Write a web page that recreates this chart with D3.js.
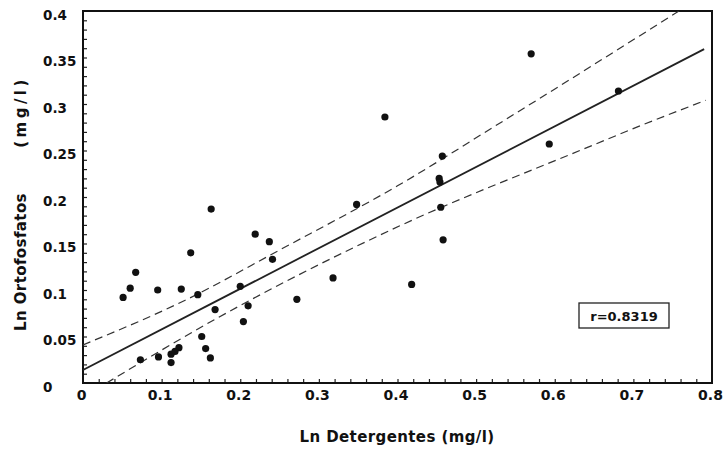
<!DOCTYPE html>
<html>
<head>
<meta charset="utf-8">
<script src="https://cdn.jsdelivr.net/npm/d3@7"></script>
<style>
  html, body { margin: 0; padding: 0; background: #ffffff; }
  svg text { font-family: "DejaVu Sans", sans-serif; fill: #111; }
</style>
</head>
<body>
<svg id="chart" width="725" height="451"></svg>
<script>
// Ln detergentes (x) vs ln ortofosfatos (y), mg/l
const detergentes = [0.570, 0.681, 0.593, 0.384, 0.457, 0.453, 0.454, 0.455, 0.458, 0.348,
  0.318, 0.272, 0.418, 0.163, 0.219, 0.237, 0.241, 0.137, 0.067, 0.060,
  0.051, 0.095, 0.125, 0.146, 0.200, 0.168, 0.210, 0.204, 0.151, 0.156,
  0.162, 0.073, 0.096, 0.112, 0.122, 0.117, 0.112];
const ortofosfatos = [0.354, 0.314, 0.257, 0.286, 0.244, 0.220, 0.216, 0.189, 0.154, 0.192,
  0.113, 0.090, 0.106, 0.187, 0.160, 0.152, 0.133, 0.140, 0.119, 0.102,
  0.092, 0.100, 0.101, 0.095, 0.104, 0.079, 0.083, 0.066, 0.050, 0.037,
  0.027, 0.025, 0.028, 0.022, 0.038, 0.034, 0.031];

// fitted line and its confidence limits, [x, y]
const fitLine = [[0, 0.014], [0.79, 0.359]];
const upperLimit = [[0, 0.041], [0.13, 0.089], [0.25, 0.143], [0.40, 0.212], [0.535, 0.282], [0.76, 0.401]];
const lowerLimit = [[0.03, 0.0], [0.167, 0.068], [0.403, 0.169], [0.632, 0.250], [0.713, 0.278], [0.792, 0.304]];

const xTickLabels = [0, 0.1, 0.2, 0.3, 0.4, 0.5, 0.6, 0.7, 0.8];
const yTickLabels = [0, 0.05, 0.1, 0.15, 0.2, 0.25, 0.3, 0.35, 0.4];
const xMinorTicks = d3.range(1, 40).map(i => +(i * 0.02).toFixed(2));
const yMinorTicks = d3.range(1, 40).map(i => +(i * 0.01).toFixed(2));
const corrLabel = "r=0.8319";

const svg = d3.select("#chart");
const L = 83, R = 712, T = 11, B = 383;

const x = d3.scaleLinear().domain([0, 0.8]).range([L, R]);
const y = d3.scaleLinear().domain([0, 0.4]).range([B, T]);

svg.append("defs").append("clipPath").attr("id", "plotClip")
  .append("rect").attr("x", L).attr("y", T).attr("width", R - L).attr("height", B - T);

// minor ticks, pointing inward
svg.append("g").attr("transform", `translate(0,${B})`)
  .call(d3.axisBottom(x).tickValues(xMinorTicks).tickSize(-4).tickSizeOuter(0).tickFormat(""))
  .call(g => g.select(".domain").remove())
  .call(g => g.selectAll("line").attr("stroke", "#222").attr("stroke-width", 1.2));
svg.append("g").attr("transform", `translate(${L},0)`)
  .call(d3.axisLeft(y).tickValues(yMinorTicks).tickSize(-4).tickSizeOuter(0).tickFormat(""))
  .call(g => g.select(".domain").remove())
  .call(g => g.selectAll("line").attr("stroke", "#222").attr("stroke-width", 1.2));

// tick labels
svg.append("g").attr("transform", `translate(0,${B})`)
  .call(d3.axisBottom(x).tickValues(xTickLabels).tickSize(0).tickPadding(7).tickFormat(d => d === 0 ? "0" : String(d)))
  .call(g => g.select(".domain").remove())
  .call(g => g.selectAll("text").attr("font-size", 14).attr("font-weight", "bold")
    .attr("font-family", "DejaVu Sans").attr("fill", "#111").attr("dx", -2));
svg.append("g").attr("transform", `translate(${L},0)`)
  .call(d3.axisLeft(y).tickValues(yTickLabels).tickSize(0).tickFormat(d => d === 0 ? "0" : String(d)))
  .call(g => g.select(".domain").remove())
  .call(g => g.selectAll("text").attr("font-size", 13.5).attr("font-weight", "bold")
    .attr("font-family", "DejaVu Sans").attr("fill", "#111")
    .attr("text-anchor", "start").attr("x", 43 - L).attr("dy", "0.6em"));

// frame
svg.append("rect").attr("x", L).attr("y", T).attr("width", R - L).attr("height", B - T)
  .attr("fill", "none").attr("stroke", "#111").attr("stroke-width", 2);

const line = d3.line().x(d => x(d[0])).y(d => y(d[1]));
const curve = d3.line().x(d => x(d[0])).y(d => y(d[1])).curve(d3.curveMonotoneX);

const plot = svg.append("g").attr("clip-path", "url(#plotClip)");

plot.append("path").datum(upperLimit).attr("d", curve)
  .attr("fill", "none").attr("stroke", "#333").attr("stroke-width", 1.2).attr("stroke-dasharray", "8,5");
plot.append("path").datum(lowerLimit).attr("d", curve)
  .attr("fill", "none").attr("stroke", "#333").attr("stroke-width", 1.2).attr("stroke-dasharray", "8,5");
plot.append("path").datum(fitLine).attr("d", line)
  .attr("fill", "none").attr("stroke", "#222").attr("stroke-width", 1.8);

plot.selectAll("circle").data(detergentes).join("circle")
  .attr("cx", d => x(d))
  .attr("cy", (d, i) => y(ortofosfatos[i]))
  .attr("r", 3.6)
  .attr("fill", "#111");

// correlation box
const box = svg.append("g");
box.append("rect").attr("x", 579).attr("y", 303).attr("width", 90).attr("height", 25)
  .attr("fill", "#fff").attr("stroke", "#222").attr("stroke-width", 1.3);
box.append("text").attr("x", 624).attr("y", 320.5).attr("text-anchor", "middle")
  .attr("font-size", 13).attr("font-weight", "bold").text(corrLabel);

// axis titles
svg.append("text").attr("x", 397).attr("y", 442).attr("text-anchor", "middle")
  .attr("font-size", 15).attr("font-weight", "bold").attr("letter-spacing", 0.4)
  .attr("xml:space", "preserve")
  .text("Ln Detergentes (mg/l)");
const yTitle = svg.append("g").attr("font-size", 15).attr("font-weight", "bold").attr("letter-spacing", 0.4);
yTitle.append("text").attr("transform", "translate(26,262) rotate(-90)").attr("text-anchor", "middle")
  .text("Ln Ortofosfatos");
yTitle.append("text").attr("transform", "translate(26,112) rotate(-90)").attr("text-anchor", "middle")
  .attr("letter-spacing", 3.5)
  .text("(mg/l)");
</script>
</body>
</html>
